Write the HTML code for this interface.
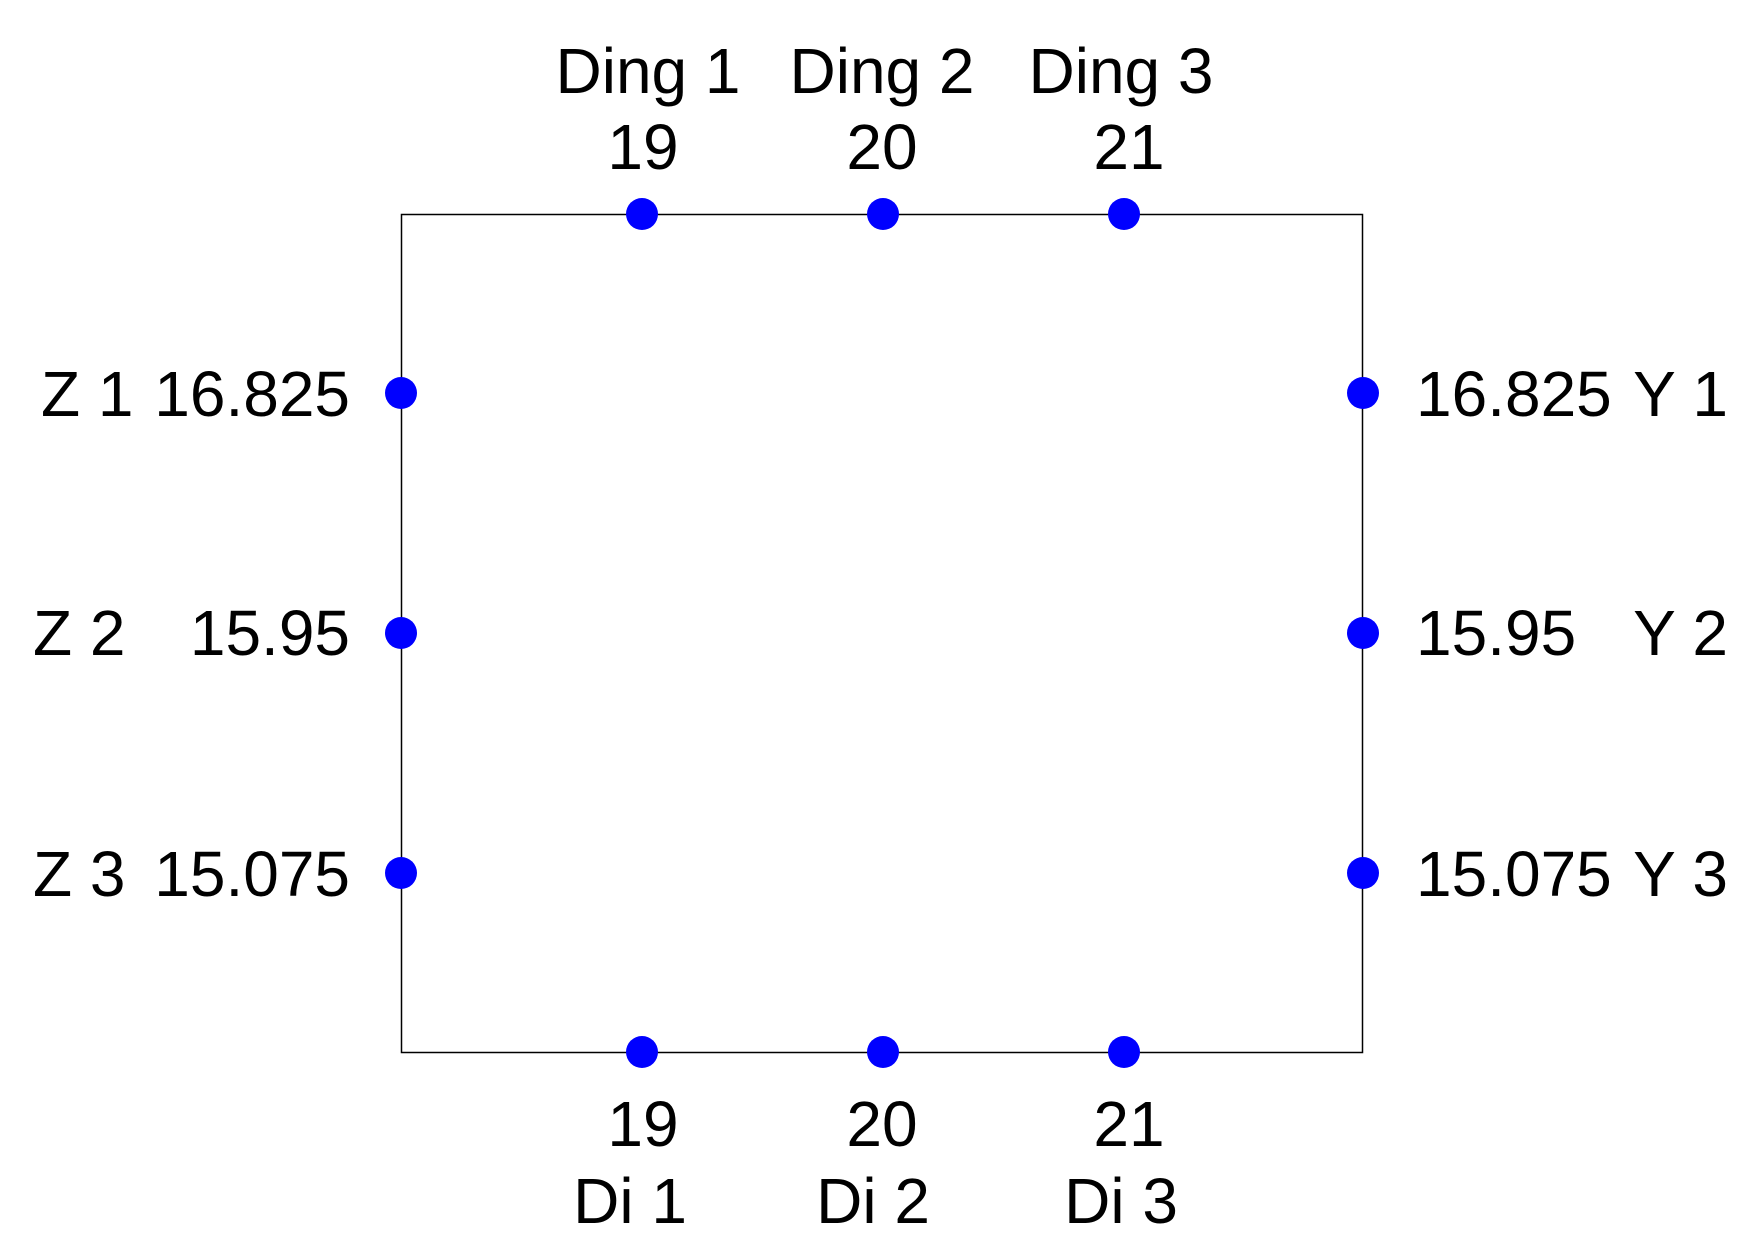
<!DOCTYPE html>
<html><head><meta charset="utf-8"><style>html,body{margin:0;padding:0;background:#fff}</style></head>
<body>
<svg width="1750" height="1259" viewBox="0 0 1750 1259" xmlns="http://www.w3.org/2000/svg" style="display:block">
<rect x="401.5" y="214.5" width="961" height="838" fill="none" stroke="#000" stroke-width="1.5"/>
<g fill="#0000ff">
<circle cx="642" cy="214" r="16"/><circle cx="883" cy="214" r="16"/><circle cx="1124" cy="214" r="16"/>
<circle cx="642" cy="1052" r="16"/><circle cx="883" cy="1052" r="16"/><circle cx="1124" cy="1052" r="16"/>
<circle cx="401" cy="393" r="16"/><circle cx="401" cy="633" r="16"/><circle cx="401" cy="873" r="16"/>
<circle cx="1363" cy="393" r="16"/><circle cx="1363" cy="633" r="16"/><circle cx="1363" cy="873" r="16"/>
</g>
<g font-family="Liberation Sans, Arial, sans-serif" font-size="64" fill="#000">
<g text-anchor="middle">
<text x="648" y="93">Ding 1</text><text x="882" y="93">Ding 2</text><text x="1121" y="93">Ding 3</text>
<text x="643" y="169">19</text><text x="882" y="169">20</text><text x="1129" y="169">21</text>
<text x="643" y="1146">19</text><text x="882" y="1146">20</text><text x="1129" y="1146">21</text>
<text x="630" y="1223">Di 1</text><text x="873" y="1223">Di 2</text><text x="1121" y="1223">Di 3</text>
</g>
<text x="41" y="416">Z 1</text><text x="350" y="416" text-anchor="end">16.825</text>
<text x="33" y="655">Z 2</text><text x="350" y="655" text-anchor="end">15.95</text>
<text x="33" y="896">Z 3</text><text x="350" y="896" text-anchor="end">15.075</text>
<text x="1416" y="416">16.825</text><text x="1728" y="416" text-anchor="end">Y 1</text>
<text x="1416" y="655">15.95</text><text x="1728" y="655" text-anchor="end">Y 2</text>
<text x="1416" y="896">15.075</text><text x="1728" y="896" text-anchor="end">Y 3</text>
</g>
</svg>
</body></html>
